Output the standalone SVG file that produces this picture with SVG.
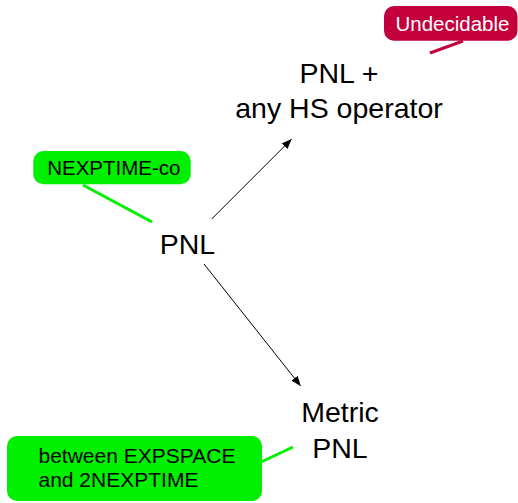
<svg xmlns="http://www.w3.org/2000/svg" width="518" height="503" viewBox="0 0 518 503">
<style>
text{font-family:"Liberation Sans",Arial,sans-serif;}
.node{font-size:28.5px;fill:#000;text-anchor:middle;}
.note{font-size:20.5px;fill:#000;}
.green{fill:#00f000;}
.gline{stroke:#00f000;stroke-width:3;fill:none;}
.red{fill:#c4003c;}
.rline{stroke:#c4003c;stroke-width:3;fill:none;}
.edge{stroke:#000;stroke-width:1;fill:none;marker-end:url(#ah);}
</style>
<defs>
<marker id="ah" viewBox="0 0 10 8" refX="10" refY="4" markerWidth="10" markerHeight="8" markerUnits="userSpaceOnUse" orient="auto">
<path d="M0,0 L10,4 L0,8 Z" fill="#000"/>
</marker>
</defs>
<g id="connectors">
<line class="edge" x1="211.7" y1="219" x2="291.7" y2="139"/>
<line class="edge" x1="204" y1="264" x2="300.7" y2="386"/>
</g>
<g id="node-pnl">
<text class="node" x="187.5" y="254.3">PNL</text>
</g>
<g id="node-pnl-hs">
<text class="node" x="339" y="82.7">PNL +</text>
<text class="node" x="339" y="118.3">any HS operator</text>
</g>
<g id="node-metric">
<text class="node" x="340" y="422.3">Metric</text>
<text class="node" x="340" y="457.7">PNL</text>
</g>
<g id="note-undecidable">
<line class="rline" x1="430" y1="53" x2="463" y2="41"/>
<rect class="red" x="384" y="6" width="133.5" height="34.7" rx="10"/>
<text class="note" x="452.5" y="30.7" text-anchor="middle" style="fill:#fff">Undecidable</text>
</g>
<g id="note-nexptime">
<line class="gline" x1="83" y1="185" x2="152" y2="222"/>
<rect class="green" x="33.3" y="151" width="157.4" height="33.3" rx="10"/>
<text class="note" x="113.8" y="175" text-anchor="middle">NEXPTIME-co</text>
</g>
<g id="note-metric">
<line class="gline" x1="261" y1="462" x2="293" y2="447"/>
<rect class="green" x="7" y="436" width="255" height="65" rx="10"/>
<text class="note" x="38.5" y="462.7" style="font-size:21px">between EXPSPACE</text>
<text class="note" x="38.5" y="486.7" style="font-size:21px">and 2NEXPTIME</text>
</g>
</svg>
